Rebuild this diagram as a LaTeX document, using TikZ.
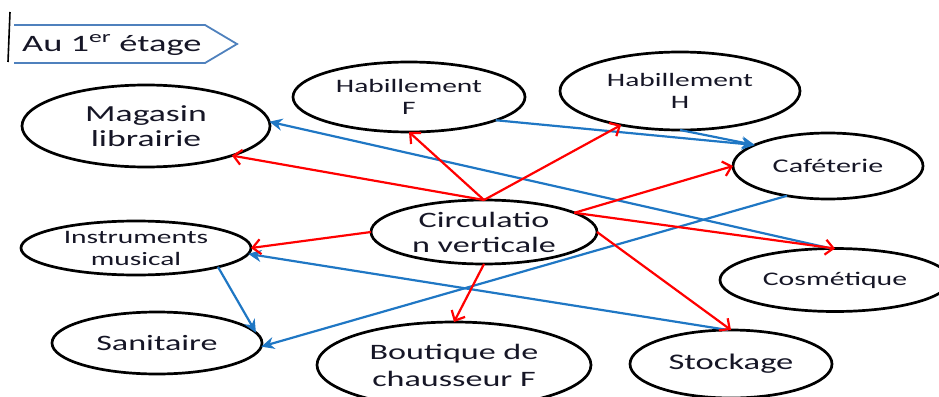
\documentclass[tikz,border=0pt]{standalone}
\usepackage{fontspec}
\setmainfont{Carlito}[FakeStretch=1.55]
\usetikzlibrary{shapes.geometric,arrows.meta}
\definecolor{txt}{RGB}{22,22,38}
\definecolor{myred}{RGB}{255,0,0}
\definecolor{myblue}{RGB}{31,119,196}
\definecolor{tagblue}{RGB}{79,129,189}
\tikzset{
  room/.style={draw=black, line width=2.7pt, ellipse, inner sep=0pt, outer sep=0pt, align=center, text=txt},
  redarr/.style={draw=myred, line width=2.2pt, -{Straight Barb[length=8pt,width=15pt]}},
  bluearr/.style={draw=myblue, line width=2.2pt, -{Stealth[length=13pt,width=12pt]}},
}
\newcommand{\fs}[2]{\fontsize{#1}{#2}\selectfont}
\begin{document}
\begin{tikzpicture}[x=1pt,y=-1pt]
\useasboundingbox (0,0) rectangle (939,396);
% tag
\draw[tagblue, line width=1.8pt] (14,25) -- (205,25) -- (237,44) -- (205,63) -- (14,63);
\draw[black, line width=1.6pt] (10,12) -- (8,62);
\node[anchor=base west, inner sep=0pt, text=txt, font=\fs{23.5}{26}] (tag) at (22,52) {Au 1\textsuperscript{er} étage};
% rooms
\node[room, minimum width=248pt, minimum height=82pt, font=\fs{23}{25}, inner ysep=-3pt] (mag) at (146,126) {Magasin\\librairie};
\node[room, minimum width=232pt, minimum height=70pt, font=\fs{19}{21.5}] (habf) at (409,97) {Habillement\\F};
\node[room, minimum width=240pt, minimum height=78pt, font=\fs{19}{22}] (habh) at (680,91) {Habillement\\H};
\node[room, minimum width=190pt, minimum height=66pt, font=\fs{19.4}{22}] (caf) at (828,166) {Caféterie};
\node[room, minimum width=226pt, minimum height=64pt, font=\fs{22}{25}, inner ysep=-3pt] (circ) at (484,232) {Circulatio\\n verticale};
\node[room, minimum width=230pt, minimum height=54pt, font=\fs{19}{22}, inner ysep=-4pt] (instr) at (136,248) {Instruments\\musical};
\node[room, minimum width=230pt, minimum height=63pt, font=\fs{19.2}{22}] (cos) at (835,280) {Cosmétique};
\node[room, minimum width=210pt, minimum height=62pt, font=\fs{22}{24}] (sani) at (157,343) {Sanitaire};
\node[room, minimum width=274pt, minimum height=86pt, font=\fs{22}{27}] (bout) at (454,365) {Boutique de\\chausseur F};
\node[room, minimum width=202pt, minimum height=68pt, font=\fs{22.3}{24}] (stock) at (731,364) {Stockage};
% blue connectors
\draw[bluearr] (cos.97) -- (mag.2);
\draw[bluearr] (habf.-15) -- (caf.164);
\draw[bluearr] (habh.south) -- (caf.164);
\draw[bluearr] (caf.-144) -- (sani.-2);
\draw[bluearr] (instr.-13) -- (sani.6);
\draw[bluearr] (stock.95) -- (instr.-3);
% red connectors
\draw[redarr] (circ.north) -- (mag.-19);
\draw[redarr] (circ.north) -- (habf.south);
\draw[redarr] (circ.north) -- (habh.-150);
\draw[redarr] (circ.12) -- (caf.west);
\draw[redarr] (circ.12) -- (cos.north);
\draw[redarr] (circ.west) -- (instr.east);
\draw[redarr] (circ.south) -- (bout.north);
\draw[redarr] (circ.east) -- (stock.north);
\end{tikzpicture}
\end{document}
